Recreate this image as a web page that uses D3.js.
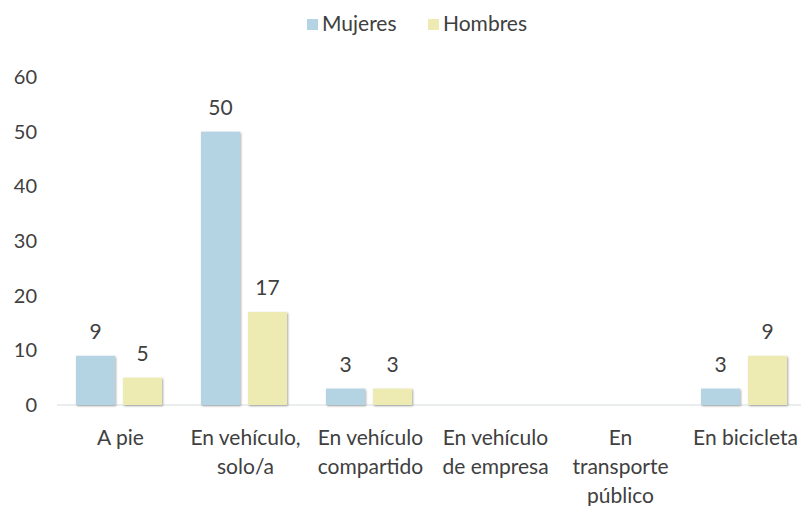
<!DOCTYPE html>
<html>
<head>
<meta charset="utf-8">
<script src="https://cdn.jsdelivr.net/npm/d3@7"></script>
<style>
  body { margin: 0; background: #fff; }
  svg text { font-family: Lato, "Open Sans", sans-serif; fill: #404040; }
</style>
</head>
<body>
<div class="chartContainer"></div>
<script>
// chart data
var categories = ['A pie', 'En vehículo, solo/a', 'En vehículo compartido', 'En vehículo de empresa', 'En transporte público', 'En bicicleta'];
var labelLines = [['A pie'], ['En vehículo,', 'solo/a'], ['En vehículo', 'compartido'], ['En vehículo', 'de empresa'], ['En', 'transporte', 'público'], ['En bicicleta']];
var mujeres = [9, 50, 3, null, null, 3];
var hombres = [5, 17, 3, null, null, 9];
var seriesNames = ['Mujeres', 'Hombres'];
var seriesColours = ['#b4d3e3', '#eeebb2'];
var yTicks = [0, 10, 20, 30, 40, 50, 60];

const width = 801;
const height = 506;

const svg = d3.select('.chartContainer')
              .append('svg')
                .attr('width', width)
                .attr('height', height);

const defs = svg.append('defs');
const shadow = defs.append('filter').attr('id', 'shadow')
    .attr('x', '-20%').attr('y', '-20%').attr('width', '140%').attr('height', '140%');
shadow.append('feDropShadow')
    .attr('dx', 1).attr('dy', 1).attr('stdDeviation', 1.2)
    .attr('flood-color', '#000').attr('flood-opacity', 0.35);

const xScale = d3.scaleBand()
                 .range([58, 808])
                 .domain(categories)
                 .paddingInner(0)
                 .paddingOuter(0);

const yScale = d3.scaleLinear()
                 .range([405, 77])
                 .domain([0, 60]);

const inner = d3.scaleBand()
                .domain(seriesNames)
                .range([18, 104])
                .paddingInner(0.17);

// y-axis labels (no line)
svg.append('g')
   .selectAll('text')
   .data(yTicks)
   .enter()
     .append('text')
       .attr('x', 37)
       .attr('y', (d) => yScale(d))
       .attr('dy', '0.35em')
       .attr('text-anchor', 'end')
       .attr('font-size', 20)
       .text((d) => d);

// baseline
svg.append('line')
   .attr('x1', 57).attr('x2', 801)
   .attr('y1', yScale(0)).attr('y2', yScale(0))
   .attr('stroke', '#e3e8ea')
   .attr('stroke-width', 1.5);

// bars
const rows = [];
categories.forEach((c, i) => {
    rows.push({cat: c, s: 0, v: mujeres[i]});
    rows.push({cat: c, s: 1, v: hombres[i]});
});
const shown = rows.filter((r) => r.v !== null && r.v > 0);

svg.append('g')
   .selectAll('rect')
   .data(shown)
   .enter()
     .append('rect')
       .attr('x', (d) => xScale(d.cat) + inner(seriesNames[d.s]))
       .attr('y', (d) => yScale(d.v))
       .attr('width', inner.bandwidth())
       .attr('height', (d) => yScale(0) - yScale(d.v))
       .attr('fill', (d) => seriesColours[d.s])
       .attr('filter', 'url(#shadow)');

// value labels
svg.append('g')
   .selectAll('text')
   .data(shown)
   .enter()
     .append('text')
       .attr('x', (d) => xScale(d.cat) + inner(seriesNames[d.s]) + inner.bandwidth() / 2)
       .attr('y', (d) => yScale(d.v) - 17)
       .attr('text-anchor', 'middle')
       .attr('font-size', 21)
       .text((d) => d.v);

// category labels
const catG = svg.append('g');
categories.forEach((c, i) => {
    const t = catG.append('text')
                  .attr('x', xScale(c) + xScale.bandwidth() / 2)
                  .attr('y', 445)
                  .attr('text-anchor', 'middle')
                  .attr('font-size', 21);
    labelLines[i].forEach((line, j) => {
        t.append('tspan')
         .attr('x', xScale(c) + xScale.bandwidth() / 2)
         .attr('dy', j === 0 ? 0 : 29)
         .text(line);
    });
});

// legend
const legend = svg.append('g');
const legendX = [307, 428];
seriesNames.forEach((name, i) => {
    legend.append('rect')
          .attr('x', legendX[i])
          .attr('y', 19)
          .attr('width', 11)
          .attr('height', 11)
          .attr('fill', seriesColours[i]);
    legend.append('text')
          .attr('x', legendX[i] + 15)
          .attr('y', 24)
          .attr('dy', '0.35em')
          .attr('font-size', 21)
          .text(name);
});
</script>
</body>
</html>
